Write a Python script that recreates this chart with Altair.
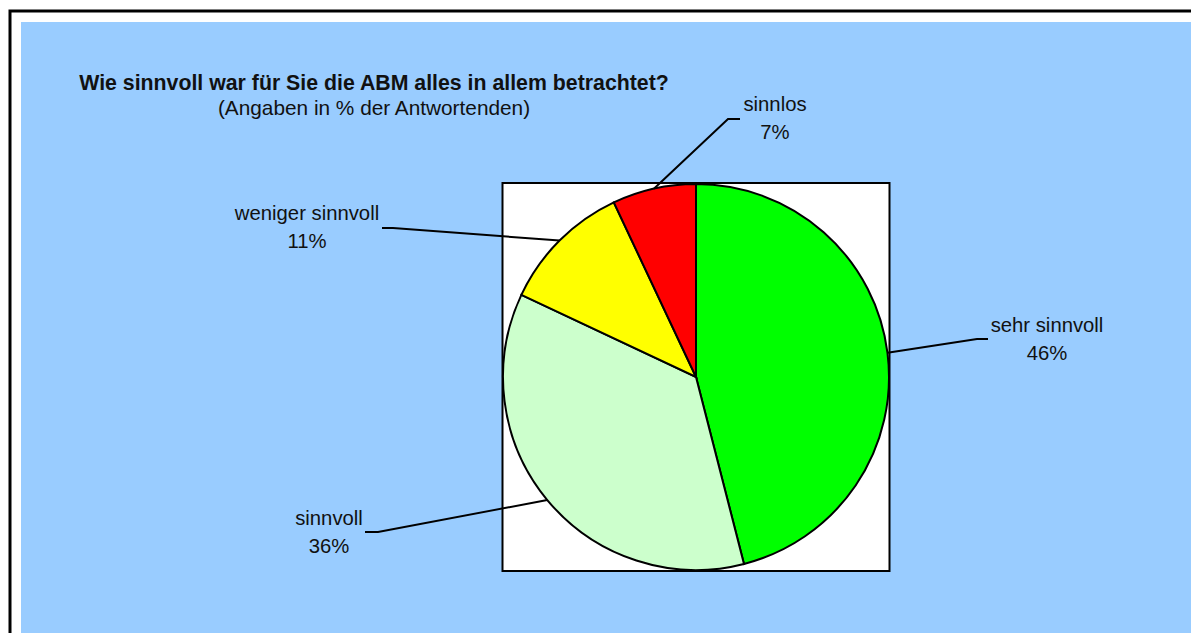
import math
import altair as alt
import pandas as pd

# ---- data ----
categories = ["sehr sinnvoll", "sinnvoll", "weniger sinnvoll", "sinnlos"]
shares = [46, 36, 11, 7]
slice_colors = ["#00FF00", "#CCFFCC", "#FFFF00", "#FF0000"]

title_text = "Wie sinnvoll war für Sie die ABM alles in allem betrachtet?"
subtitle_text = "(Angaben in % der Antwortenden)"

# ---- layout (pixels inside the chart) ----
W, H = 1183, 625
CX, CY, R = 688, 369, 193
FONT = "Liberation Sans"
LABEL_SIZE = 20.3
LINE_GAP = 28

label_anchor = {
    "sehr sinnvoll": (1039, 324),
    "sinnvoll": (321, 517),
    "weniger sinnvoll": (299, 212),
    "sinnlos": (767, 103),
}
leader_elbow = {
    "sehr sinnvoll": [(969, 331), (980, 331)],
    "sinnvoll": [(370, 524), (357, 524)],
    "weniger sinnvoll": [(385, 220), (374, 220)],
    "sinnlos": [(720, 111), (732, 111)],
}

# ---- tables ----
total = float(sum(shares))
pie_df = pd.DataFrame({"category": categories, "value": shares, "idx": range(len(categories))})

lab_rows, line_rows = [], []
cum = 0.0
for cat, v in zip(categories, shares):
    mid = (cum + v / 2) / total * 2 * math.pi
    cum += v
    sx, sy = CX + R * math.sin(mid), CY - R * math.cos(mid)
    pts = [(sx, sy)] + leader_elbow[cat]
    for i, (px, py) in enumerate(pts):
        line_rows.append({"category": cat, "seq": i, "px": px, "py": py})
    ax, ay = label_anchor[cat]
    lab_rows.append({"category": cat, "name": cat, "pct": f"{v}%", "lx": ax, "ly": ay, "ly2": ay + LINE_GAP})
lab_df = pd.DataFrame(lab_rows)
line_df = pd.DataFrame(line_rows)
one = pd.DataFrame({"k": [0]})

X = lambda f: alt.X(f, scale=None, axis=None)
Y = lambda f: alt.Y(f, scale=None, axis=None)

outer = alt.Chart(one).mark_rect(fill="white", stroke="black", strokeWidth=3).encode(
    x=alt.value(2), x2=alt.value(W + 40), y=alt.value(3), y2=alt.value(H + 40))
blue = alt.Chart(one).mark_rect(fill="#99CCFF").encode(
    x=alt.value(13), x2=alt.value(W + 40), y=alt.value(14), y2=alt.value(H + 40))
plotbox = alt.Chart(one).mark_rect(fill="white", stroke="black", strokeWidth=2).encode(
    x=alt.value(CX - R - 0.5), x2=alt.value(CX + R + 0.5), y=alt.value(CY - R - 1), y2=alt.value(CY + R + 1))

pie = alt.Chart(pie_df).mark_arc(outerRadius=R, stroke="black", strokeWidth=2).encode(
    theta=alt.Theta("value:Q", stack=True),
    order=alt.Order("idx:Q"),
    color=alt.Color("category:N", scale=alt.Scale(domain=categories, range=slice_colors), legend=None),
    x=alt.value(CX), y=alt.value(CY),
)

leaders = alt.Chart(line_df).mark_line(color="black", strokeWidth=2).encode(
    x=X("px:Q"), y=Y("py:Q"), detail="category:N", order="seq:Q")

names = alt.Chart(lab_df).mark_text(font=FONT, fontSize=LABEL_SIZE, align="center", baseline="alphabetic", color="#111111").encode(
    x=X("lx:Q"), y=Y("ly:Q"), text="name:N")
pcts = alt.Chart(lab_df).mark_text(font=FONT, fontSize=LABEL_SIZE, align="center", baseline="alphabetic", color="#111111").encode(
    x=X("lx:Q"), y=Y("ly2:Q"), text="pct:N")

title_df = pd.DataFrame({"t": [title_text], "s": [subtitle_text]})
title = alt.Chart(title_df).mark_text(font=FONT, fontSize=21.3, fontWeight="bold", align="center", baseline="alphabetic", color="#111111").encode(
    x=alt.value(366), y=alt.value(82), text="t:N")
subtitle = alt.Chart(title_df).mark_text(font=FONT, fontSize=20.8, align="center", baseline="alphabetic", color="#111111").encode(
    x=alt.value(366), y=alt.value(107), text="s:N")

chart = alt.layer(outer, blue, plotbox, pie, leaders, names, pcts, title, subtitle).properties(
    width=W, height=H, padding=0, autosize=alt.AutoSizeParams(type="none"), background="white"
).configure_view(stroke=None)

chart.save("out.html", embed_options={"renderer": "svg", "actions": False})
